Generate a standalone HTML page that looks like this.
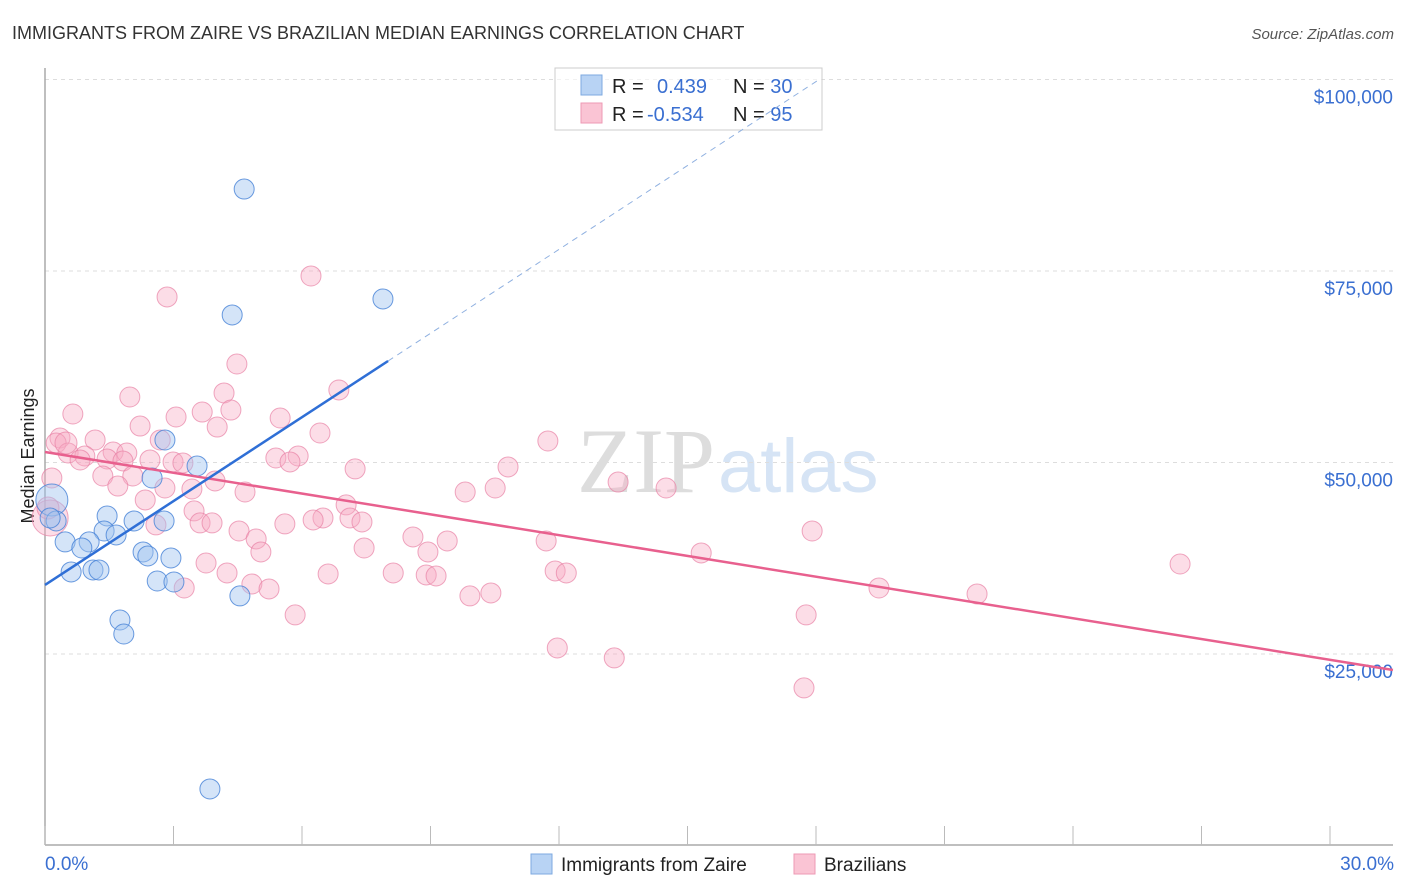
<!DOCTYPE html>
<html><head><meta charset="utf-8"><style>
body{margin:0;background:#fff;width:1406px;height:892px;overflow:hidden;font-family:"Liberation Sans",sans-serif}
svg{position:absolute;left:0;top:0}
</style></head><body>
<svg id="c" width="1406" height="892">
<text x="12" y="39" font-size="18" fill="#333">IMMIGRANTS FROM ZAIRE VS BRAZILIAN MEDIAN EARNINGS CORRELATION CHART</text>
<text x="1394" y="39" font-size="15" fill="#555" font-style="italic" text-anchor="end">Source: ZipAtlas.com</text>
<text x="34" y="456" font-size="18" fill="#222" text-anchor="middle" transform="rotate(-90 34 456)">Median Earnings</text>
<text x="715" y="492" font-size="92" fill="#ddd" text-anchor="end" font-family="Liberation Serif">ZIP</text>
<text x="718" y="492" font-size="76" fill="#d6e4f5">atlas</text>
<g id="grid"></g><g id="pts"></g>
<g>
<rect x="555" y="68" width="267" height="62" fill="#fff" fill-opacity="0.6" stroke="#ccc"/>
<rect x="581" y="75" width="21" height="20" fill="#b8d3f4" stroke="#7ea9e0"/>
<rect x="581" y="103" width="21" height="20" fill="#fac4d4" stroke="#ee9ab4"/>
<text x="612" y="93" font-size="20" fill="#222">R = <tspan fill="#3a6fd1" x="657">0.439</tspan><tspan x="733" fill="#222">N = </tspan><tspan fill="#3a6fd1">30</tspan></text>
<text x="612" y="121" font-size="20" fill="#222">R = <tspan fill="#3a6fd1" x="647">-0.534</tspan><tspan x="733" fill="#222">N = </tspan><tspan fill="#3a6fd1">95</tspan></text>
</g>
<g id="lines"></g>
<g>
<rect x="531" y="854" width="21" height="20" fill="#b8d3f4" stroke="#7ea9e0"/>
<text x="561" y="871" font-size="19" fill="#222">Immigrants from Zaire</text>
<rect x="794" y="854" width="21" height="20" fill="#fac4d4" stroke="#ee9ab4"/>
<text x="824" y="871" font-size="19" fill="#222">Brazilians</text>
</g>
</svg>
<script>
const yTicks=[25000,50000,75000,100000];
const yTickLabels=["$25,000","$50,000","$75,000","$100,000"];
const xTicks=[0,3,6,9,12,15,18,21,24,27,30];
const xEndLabels=["0.0%","30.0%"];
const zaireX=[4.65,7.89,4.37,2.80,3.55,2.50,0.16,0.26,1.45,2.08,2.78,1.38,1.66,0.47,1.03,0.86,2.29,2.40,2.94,0.61,1.12,1.26,2.62,3.01,4.55,1.75,1.84,3.85,0.12];
const zaireY=[85700,71350,69260,52940,49550,47980,45110,42370,43020,42370,42370,41060,40540,39630,39630,38840,38320,37800,37540,35710,35970,35970,34530,34400,32580,29440,27610,7380,42760];
const brazX=[6.21,2.85,4.48,6.86,4.18,1.98,0.65,5.49,3.06,4.34,3.67,2.22,4.02,6.42,0.35,1.17,0.26,2.69,11.74,1.59,1.91,0.54,0.93,0.82,1.45,2.45,5.39,5.91,5.72,2.99,3.22,1.82,10.81,7.24,0.16,1.35,2.05,3.97,1.70,2.80,3.43,4.67,9.81,10.51,13.38,14.50,2.34,7.03,3.48,6.49,6.26,7.12,7.40,3.62,3.90,2.59,5.60,4.53,8.59,9.39,11.70,4.93,7.45,5.04,8.94,15.32,17.91,3.76,4.25,4.83,5.23,6.61,8.13,8.90,9.13,11.91,12.17,3.25,9.92,10.41,19.47,21.76,26.50,5.84,17.77,11.96,13.29,17.72,0.12,0.07,0.49];
const brazY=[74350,71610,62860,59470,59080,58550,56330,55810,55940,56850,56590,54760,54630,53850,53200,52940,52550,52940,52810,51370,51240,51240,50850,50330,50460,50330,50590,50850,50070,50070,49940,50200,49420,49160,47980,48240,48240,47590,46930,46670,46540,46150,46150,46670,47450,46670,45110,44460,43680,42760,42500,42760,42240,42110,42110,41850,41980,41060,40280,39760,39760,40020,38840,38320,38320,38190,41060,36880,35580,34140,33490,35450,35580,35320,35190,35840,35580,33620,32580,32970,33620,32840,36750,30100,30100,25790,24490,20570,42760,44060,52550];
const zaireLine=[[0,34010],[8.01,63250]];
const zaireDash=[[8.01,63250],[18.1,100090]];
const brazLine=[[0,51370],[31.47,22910]];
const NS="http://www.w3.org/2000/svg";
const X=v=>45+v/30*1285, Y=v=>845.5-v/25000*191.5;
function mk(t,a,p){const e=document.createElementNS(NS,t);for(const k in a)e.setAttribute(k,a[k]);p.appendChild(e);return e;}
const g=document.getElementById('grid');
yTicks.forEach((t,i)=>{
 const l=mk('line',{x1:45,x2:1393,y1:Y(t),y2:Y(t),stroke:'#ddd','stroke-dasharray':'4 4'},g);
 
 
 const tx=mk('text',{x:1393,y:Y(t)+24,'font-size':19,fill:'#3a6fd1','text-anchor':'end'},g);
 tx.textContent=yTickLabels[i];
 
 
});
const ax=mk('line',{x1:45,x2:1393,y1:845,y2:845,stroke:'#aaa','stroke-width':1.5},g);


const ay=mk('line',{x1:45,x2:45,y1:68,y2:845,stroke:'#aaa','stroke-width':1.5},g);


xTicks.forEach(t=>{
 const l=mk('line',{x1:X(t),x2:X(t),y1:826,y2:845,stroke:'#bbb'},g);
 
 
});
[[0,'start',45],[30,'end',1394]].forEach((d,i)=>{
 const tx=mk('text',{x:d[2],y:870,'font-size':19,fill:'#3a6fd1','text-anchor':d[1]},g);
 tx.textContent=xEndLabels[i];
 
 
});
const p=document.getElementById('pts');
brazX.forEach((x,i)=>{
 const big=(i>=88);
 const c=mk('circle',{cx:X(x),cy:Y(brazY[i]),r:big?(i==88?18:11):10,fill:'rgba(247,170,195,0.4)',stroke:'rgba(232,130,165,0.7)','stroke-width':1},p);
 
 
});
zaireX.forEach((x,i)=>{
 const c=mk('circle',{cx:X(x),cy:Y(zaireY[i]),r:i==6?16:10,fill:'rgba(160,195,240,0.45)',stroke:'rgba(70,130,215,0.8)','stroke-width':1},p);
 
 
});
const L=document.getElementById('lines');
function ln(d,col,dash){const e=mk('line',{x1:X(d[0][0]),y1:Y(d[0][1]),x2:X(d[1][0]),y2:Y(d[1][1]),stroke:col,'stroke-width':dash?1:2.5},L);if(dash)e.setAttribute('stroke-dasharray','6 5');return e;}
const a=ln(brazLine,'#e8608e',false);


const b=ln(zaireLine,'#2f6fd6',false);


const c2=ln(zaireDash,'#8fb0e0',true);


</script>
</body></html>
